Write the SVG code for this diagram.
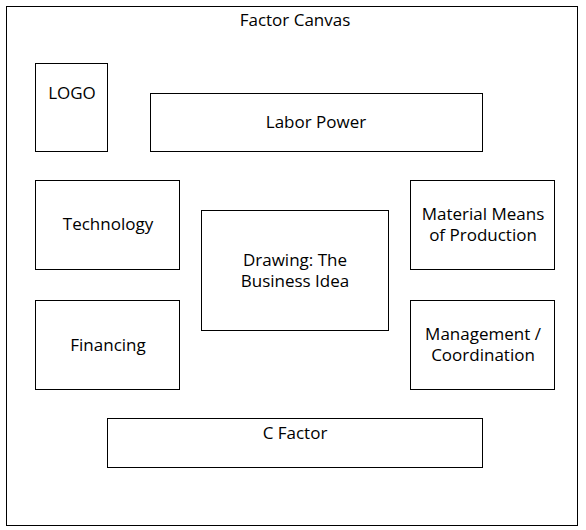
<svg xmlns="http://www.w3.org/2000/svg" width="586" height="530" viewBox="0 0 586 530">
<style>
rect{fill:#fff;stroke:#000;stroke-width:1}
text{font-family:"Open Sans","DejaVu Sans",sans-serif;font-size:17px;fill:#000;text-anchor:middle;dominant-baseline:central}
</style>
<rect x="0" y="0" width="586" height="530" style="stroke:none"/>
<g id="canvas">
<rect x="6.5" y="6.5" width="571" height="519"/>
<text x="295" y="19">Factor Canvas</text>
</g>
<g id="logo"><rect x="35.5" y="63.5" width="72" height="88"/><text x="72" y="92">LOGO</text></g>
<g id="labor"><rect x="150.5" y="93.5" width="332" height="58"/><text x="316" y="121">Labor Power</text></g>
<g id="technology"><rect x="35.5" y="180.5" width="144" height="89"/><text x="108" y="223">Technology</text></g>
<g id="drawing"><rect x="201.5" y="210.5" width="187" height="120"/><text x="295" y="259.5">Drawing: The</text><text x="295" y="280.5">Business Idea</text></g>
<g id="material"><rect x="410.5" y="180.5" width="144" height="89"/><text x="483" y="213">Material Means</text><text x="483" y="234">of Production</text></g>
<g id="financing"><rect x="35.5" y="300.5" width="144" height="89"/><text x="108" y="344">Financing</text></g>
<g id="management"><rect x="410.5" y="300.5" width="144" height="89"/><text x="483" y="333">Management /</text><text x="483" y="354">Coordination</text></g>
<g id="cfactor"><rect x="107.5" y="418.5" width="375" height="49"/><text x="295" y="432">C Factor</text></g>
<g id="connectors"></g>
</svg>
